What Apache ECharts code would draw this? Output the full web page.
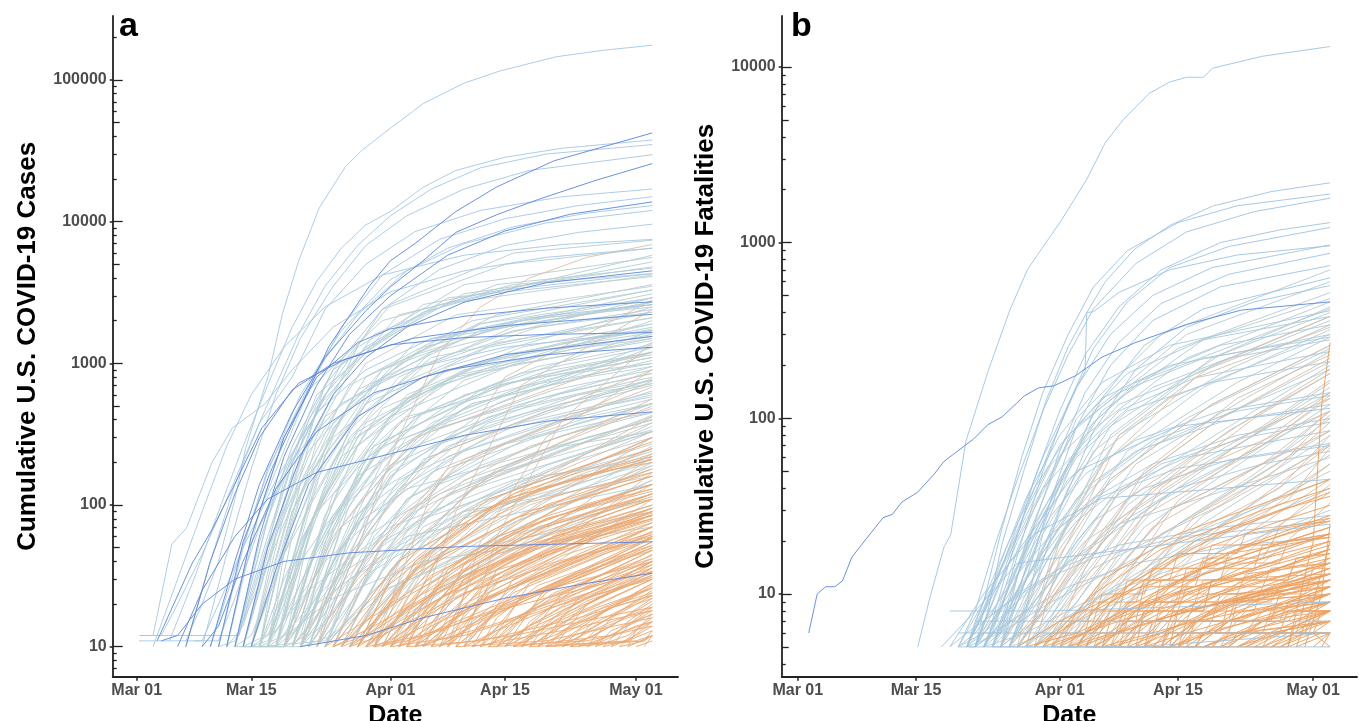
<!DOCTYPE html>
<html>
<head>
<meta charset="utf-8">
<script src="https://cdn.jsdelivr.net/npm/echarts@6/dist/echarts.min.js"></script>
<style>
  html, body { margin: 0; padding: 0; background: #fff; }
  #chart { width: 1359px; height: 721px; }
</style>
</head>
<body>
<div id="chart"></div>
<script>
// x is days since Mar 01 2020; each line is a flat list: day, value, day, value ...
const dateTicks = [0, 14, 31, 45, 61];
const dateLabels = ["Mar 01", "Mar 15", "Apr 01", "Apr 15", "May 01"];

const casesMajor = [10, 100, 1000, 10000, 100000];
const casesMinor = [7, 8, 9, 20, 30, 40, 60, 70, 80, 90, 200, 300, 400, 600, 700, 800, 900,
  2000, 3000, 4000, 6000, 7000, 8000, 9000, 20000, 30000, 40000, 60000, 70000, 80000, 90000, 200000];
const casesFive = [50, 500, 5000, 50000];

const deathsMajor = [10, 100, 1000, 10000];
const deathsMinor = [4, 6, 7, 8, 9, 20, 30, 40, 60, 70, 80, 90, 200, 300, 400, 600, 700, 800, 900,
  2000, 3000, 4000, 6000, 7000, 8000, 9000];
const deathsFive = [5, 50, 500, 5000];

// ---- panel a : cumulative cases ----
const casesDarkBlue = [
  [10,10, 13,55, 16.5,180, 20,490, 23.5,1320, 28.5,3550, 31,5300, 34,7000, 39,11800, 44,17600, 51,26900, 63,42300],
  [9,10, 12,40, 15,140, 19,450, 23,1100, 28,2350, 31,3460, 35,5300, 39,8400, 44,11200, 49,14300, 56,19500, 63,25700],
  [2.5,11, 6.8,39, 9.2,67, 11.7,130, 15.3,350, 19.8,725, 25.5,1070, 33.7,1500, 45,1850, 63,2220],
  [5,10, 8,25, 12,60, 16,110, 22,170, 31,230, 40,310, 50,390, 63,455],
  [3,11, 5,12, 8,20, 12,30, 18,40, 26,46, 40,51, 63,55],
  [6,10, 9,40, 12,120, 15,300, 19,650, 24,1000, 31,1350, 40,1520, 50,1600, 63,1650],
  [11,10, 14,60, 18,300, 22,800, 27,1400, 31,1750, 40,2150, 50,2450, 63,2720],
  [13,10, 16,50, 20,220, 24,600, 28,1100, 33,1800, 40,2700, 50,3700, 63,4500],
  [12,10, 15,60, 18,220, 22,700, 26,1600, 31,3000, 38,5800, 45,8600, 53,11300, 63,13800],
  [20,10, 28,12, 35,16, 45,22, 55,28, 63,33],
  [8,10, 10,14, 13,40, 17,130, 22,330, 29,620, 38,900, 50,1150, 63,1300],
  [14,10, 17,35, 21,140, 27,420, 35,800, 45,1150, 63,1550]
];
const casesLightBlue = [
  [6,11, 8,20, 10,40, 12,110, 13.3,250, 16.1,826, 17.8,2230, 19.8,5300, 22.3,12500, 25.5,24400, 27.5,31800, 31,45700, 33.7,59700, 35,68100, 40,95000, 44.4,115900, 51.3,146000, 57,162000, 63,176000],
  [4,11, 7,30, 10,90, 13,260, 16,700, 19,1800, 22,3800, 25,6500, 28,9500, 31,11800, 35,17500, 39,23000, 45,28500, 52,33000, 63,37700],
  [3,12, 5,20, 8,45, 11,110, 14,280, 17,700, 20,1700, 23,3500, 27,6800, 31,11000, 36,17000, 42,24000, 50,30000, 63,35000],
  [8,10, 11,45, 14,180, 17,600, 20,1500, 24,3500, 28,6800, 33,11000, 40,17000, 48,23000, 63,29700],
  [6,10, 9,40, 12,140, 15,380, 19,800, 23,2400, 28,5000, 34,8500, 42,12000, 52,15000, 63,17000],
  [10,10, 13,50, 16,180, 20,500, 25,1800, 30,4200, 37,7500, 45,10500, 54,13000, 63,15000],
  [9,10, 12,35, 16,170, 20,600, 25,1700, 31,3900, 38,6500, 46,9200, 55,11500, 63,13000],
  [11,10, 14,60, 18,300, 22,900, 27,2200, 33,4500, 40,7000, 50,9800, 63,12000],
  [12,10, 15,55, 19,260, 24,900, 30,2400, 37,4600, 45,6800, 54,8400, 63,9600],
  [0.5,12, 2,12, 4.3,53, 6.1,69, 9.2,200, 11.7,350, 13.7,426, 15.7,520, 19,900, 24,1800, 31,3200, 40,4500, 50,5600, 63,6500],
  [0.3,12, 12.5,12, 14,25, 16,60, 19,200, 23,600, 28,1300, 35,2300, 45,3300, 63,4300],
  [0.3,11, 8,11, 10,20, 13,50, 17,150, 22,450, 28,900, 36,1500, 48,2100, 63,2600],
  [2,10, 5,30, 8,90, 11,260, 14,600, 18,1300, 23,2500, 30,4200, 40,5800, 52,6900, 63,7500],
  [7,11, 10,11, 12,22, 15,70, 19,210, 25,520, 33,900, 45,1300, 63,1700]
];
const casesTeal = [
  [12,10, 16,80, 22,600, 35,2600, 63,5200], [12,10, 17,130, 24,900, 38,2900, 63,4100],
  [13,10, 18,150, 25,1000, 40,3100, 63,4800], [13,10, 17,60, 23,420, 37,1500, 63,2700],
  [14,10, 19,110, 26,700, 41,2000, 63,3300], [14,10, 18,45, 24,300, 36,1100, 63,2300],
  [15,10, 19,90, 27,650, 42,1700, 63,2600], [15,10, 20,140, 28,800, 44,2200, 63,3600],
  [15,10, 18,30, 25,220, 39,800, 63,1500], [16,10, 21,100, 28,520, 43,1300, 63,2100],
  [16,10, 20,55, 27,330, 40,900, 63,1600], [16,10, 22,170, 30,760, 46,1700, 63,2400],
  [17,10, 21,70, 28,380, 42,1000, 63,1750], [17,10, 22,95, 30,480, 45,1150, 63,1800],
  [17,10, 20,28, 27,160, 41,520, 63,1050], [18,10, 23,85, 31,420, 46,980, 63,1450],
  [18,10, 22,50, 29,260, 44,700, 63,1200], [18,10, 24,120, 33,560, 48,1200, 63,1650],
  [19,10, 23,55, 30,280, 45,720, 63,1100], [19,10, 24,80, 32,380, 47,850, 63,1300],
  [19,10, 22,25, 29,120, 43,380, 63,760], [20,10, 25,70, 33,300, 48,700, 63,1000],
  [20,10, 24,40, 31,190, 46,480, 63,800], [20,10, 26,100, 34,420, 50,880, 63,1200],
  [21,10, 26,60, 34,260, 49,560, 63,850], [21,10, 25,35, 32,150, 47,380, 63,620],
  [21,10, 27,85, 36,330, 51,650, 63,900], [22,10, 27,50, 35,210, 50,460, 63,700],
  [22,10, 26,28, 33,110, 48,300, 63,520], [22,10, 28,70, 37,270, 52,520, 63,720],
  [23,10, 28,45, 36,170, 51,380, 63,560], [23,10, 27,24, 34,90, 49,240, 63,400],
  [23,10, 29,60, 38,220, 53,440, 63,600], [24,10, 29,38, 37,140, 52,310, 63,450],
  [24,10, 28,20, 35,70, 50,190, 63,330], [24,10, 30,52, 39,190, 54,380, 63,520],
  [25,10, 30,34, 38,120, 53,260, 63,380], [25,10, 31,45, 40,150, 55,300, 63,400],
  [26,10, 31,30, 39,95, 54,210, 63,300], [26,10, 32,40, 41,130, 56,250, 63,330],
  [27,10, 32,26, 40,80, 55,170, 63,240], [27,10, 33,35, 42,105, 57,210, 63,270],
  [28,10, 34,30, 44,90, 63,210], [29,10, 35,26, 46,75, 63,180], [30,10, 36,24, 48,65, 63,150],
  [13,10, 16,45, 21,400, 30,2400, 45,5000, 63,6500], [14,10, 17,60, 22,480, 32,2200, 63,5800],
  [12,10, 15,35, 20,300, 29,1600, 44,3600, 63,4700], [16,10, 19,60, 24,350, 34,1400, 63,3100],
  [17,10, 20,50, 26,340, 36,1200, 63,2900], [18,10, 21,40, 27,260, 38,950, 63,2500],
  [19,10, 22,35, 28,210, 40,760, 63,2000], [20,10, 23,30, 30,200, 42,650, 63,1700],
  [21,10, 24,28, 31,160, 44,520, 63,1400], [15,10, 17,18, 22,90, 33,420, 63,1200],
  [16,10, 18,16, 24,85, 36,340, 63,950], [17,10, 19,15, 25,70, 38,260, 63,780],
  [18,10, 21,18, 27,75, 40,240, 63,640], [19,10, 22,16, 28,60, 42,190, 63,520],
  [20,10, 23,15, 30,55, 44,160, 63,430], [14,10, 16,12, 20,40, 30,260, 63,1300],
  [22,10, 24,14, 31,48, 46,140, 63,360], [23,10, 26,16, 33,45, 48,120, 63,300],
  [25,10, 27,13, 34,36, 50,95, 63,230], [26,10, 29,15, 37,38, 63,190],
  [28,10, 31,14, 40,32, 63,150], [31,10, 34,18, 44,45, 63,120],
  [14,10, 18,85, 23,700, 31,2600, 46,6000, 63,7400], [13,10, 19,160, 27,1300, 40,3600, 63,5600],
  [11,10, 15,90, 21,650, 30,2000, 46,3600, 63,4300], [12,10, 20,10, 26,30, 40,90, 63,160],
  [13,10, 18,10, 22,20, 33,60, 63,140], [15,10, 23,11, 30,25, 45,55, 63,90],
  [16,10, 19,13, 24,22, 35,40, 63,70]
];
const casesTeal2 = [
  [14,10, 16,22, 19,90, 24,380, 33,1100, 47,2000, 63,2600], [15,10, 17,30, 20,120, 26,520, 35,1300, 50,2100, 63,2500],
  [16,10, 18,20, 21,70, 27,300, 37,850, 52,1400, 63,1700], [17,10, 19,25, 22,85, 28,330, 39,820, 53,1250, 63,1500],
  [18,10, 20,18, 23,60, 29,230, 40,600, 54,950, 63,1150], [19,10, 21,20, 24,65, 30,220, 41,520, 55,800, 63,950],
  [20,10, 22,16, 25,48, 31,170, 43,420, 56,640, 63,760], [21,10, 23,15, 26,40, 32,130, 44,330, 57,500, 63,580],
  [22,10, 24,14, 27,35, 33,110, 45,270, 58,400, 63,450], [16,10, 17,14, 19,40, 22,150, 29,700, 42,1900, 63,3300],
  [17,10, 18,16, 20,45, 24,200, 32,800, 46,1800, 63,2700], [18,10, 19,13, 21,35, 25,150, 33,600, 47,1300, 63,1900],
  [19,10, 20,12, 22,28, 26,110, 35,450, 49,950, 63,1350], [20,10, 21,13, 23,30, 27,100, 36,380, 50,800, 63,1100],
  [21,10, 22,12, 24,24, 28,80, 38,300, 52,620, 63,850], [15,10, 17,40, 21,260, 27,1100, 37,2600, 63,4200],
  [16,10, 18,45, 22,280, 28,1000, 39,2200, 63,3500], [17,10, 19,35, 23,220, 30,900, 42,1900, 63,2900],
  [18,10, 21,60, 26,300, 35,950, 49,1800, 63,2300], [20,10, 23,50, 28,230, 37,700, 51,1250, 63,1550],
  [22,10, 25,40, 30,160, 40,480, 53,850, 63,1000], [23,10, 26,30, 31,110, 41,330, 54,600, 63,720],
  [24,10, 27,26, 32,85, 42,240, 56,430, 63,520], [25,10, 28,22, 33,65, 44,170, 63,340],
  [26,10, 29,20, 35,55, 46,130, 63,250], [27,10, 30,17, 36,42, 48,100, 63,190],
  [17,10, 20,14, 26,40, 37,120, 52,260, 63,330], [18,10, 22,13, 28,32, 40,85, 63,200],
  [20,10, 24,12, 31,26, 45,60, 63,110], [15,10, 18,12, 24,30, 35,80, 50,160, 63,220],
  [14,10, 16,11, 21,25, 31,70, 46,150, 63,210], [13,10, 17,13, 23,40, 33,130, 63,400],
  [12,10, 14,12, 18,45, 25,250, 38,900, 63,1900], [11,10, 13,14, 16,50, 21,240, 30,900, 45,1900, 63,2900],
  [10,10, 12,11, 15,28, 20,140, 29,600, 44,1400, 63,2100]
];
const casesTan = [
  [22,10, 27,50, 32,300, 37,1200, 42,2500, 48,4000, 55,5600, 63,6900],
  [18,10, 24,60, 34,300, 63,1200], [20,10, 26,45, 36,220, 63,900], [22,10, 28,40, 38,180, 63,750],
  [24,10, 30,55, 40,210, 63,680], [26,10, 31,35, 42,150, 63,560], [27,10, 33,50, 44,180, 63,500],
  [29,10, 34,30, 45,110, 63,420], [30,10, 36,45, 47,140, 63,380], [32,10, 37,28, 48,90, 63,300],
  [33,10, 38,40, 50,110, 63,260], [35,10, 40,30, 52,80, 63,220], [36,10, 41,22, 53,60, 63,170],
  [21,10, 27,30, 37,110, 63,420], [23,10, 29,25, 40,90, 63,330], [25,10, 32,28, 44,85, 63,250],
  [28,10, 35,24, 47,70, 63,200], [31,10, 38,22, 50,55, 63,140], [34,10, 40,18, 52,42, 63,110],
  [19,10, 25,28, 33,90, 48,260, 63,480], [37,10, 43,26, 55,60, 63,95],
  [38,10, 42,55, 50,300, 63,900], [40,10, 44,60, 52,400, 63,1400],
  [33,10, 39,90, 47,700, 63,2400], [29,10, 36,120, 45,800, 63,2800]
];
const casesOrange = [
  [24,10, 32,40, 45,110, 63,220], [25,10, 33,30, 46,80, 63,160], [26,10, 31,20, 44,60, 63,140],
  [27,10, 34,35, 48,90, 63,170], [28,10, 33,18, 46,50, 63,110], [29,10, 36,32, 50,80, 63,130],
  [30,10, 35,16, 47,40, 63,85], [30,10, 37,28, 50,70, 63,120], [31,10, 36,20, 49,55, 63,95],
  [32,10, 38,25, 51,60, 63,100], [32,10, 36,14, 48,30, 63,65], [33,10, 39,22, 52,50, 63,80],
  [34,10, 38,15, 50,35, 63,70], [34,10, 40,30, 53,75, 63,115], [35,10, 41,20, 54,45, 63,75],
  [35,10, 39,13, 51,26, 63,50], [36,10, 42,26, 55,60, 63,90], [37,10, 41,14, 53,30, 63,55],
  [37,10, 43,22, 56,48, 63,70], [38,10, 42,16, 54,32, 63,52], [38,10, 44,28, 57,62, 63,85],
  [39,10, 45,20, 58,42, 63,60], [40,10, 44,13, 56,25, 63,40], [40,10, 46,24, 59,50, 63,65],
  [41,10, 45,15, 57,30, 63,45], [42,10, 47,22, 63,60], [42,10, 46,12, 63,32], [43,10, 48,18, 63,48],
  [44,10, 48,14, 63,36], [44,10, 50,24, 63,55], [45,10, 49,13, 63,30], [45,10, 51,20, 63,42],
  [46,10, 51,15, 63,34], [47,10, 52,18, 63,38], [47,10, 51,12, 63,26], [48,10, 53,16, 63,30],
  [49,10, 54,14, 63,27], [49,10, 55,20, 63,36], [50,10, 55,13, 63,24], [51,10, 56,16, 63,28],
  [52,10, 56,12, 63,21], [52,10, 57,15, 63,25], [53,10, 58,14, 63,22], [54,10, 58,12, 63,18],
  [55,10, 59,13, 63,19], [56,10, 60,12, 63,16], [57,10, 60,11, 63,15], [58,10, 61,12, 63,14],
  [59,10, 62,11, 63,13], [60,10, 63,12], [61,10, 63,11],
  [26,10, 30,12, 40,24, 55,45, 63,58], [27,10, 32,15, 42,32, 63,75], [28,10, 35,12, 46,22, 63,40],
  [29,10, 33,11, 44,18, 63,34], [31,10, 40,12, 52,20, 63,30], [33,10, 42,11, 54,16, 63,23],
  [36,10, 46,12, 63,19], [39,10, 50,11, 63,16], [41,10, 52,13, 63,18], [43,10, 55,11, 63,14],
  [46,10, 58,12, 63,15], [48,10, 60,11, 63,13], [50,10, 61,11, 63,12], [53,10, 62,11, 63,12],
  [25,10, 30,25, 42,90, 63,300], [27,10, 31,30, 43,110, 63,280], [29,10, 34,40, 46,120, 63,250],
  [31,10, 37,45, 49,130, 63,210], [33,10, 38,35, 50,100, 63,180], [35,10, 40,38, 52,100, 63,160],
  [37,10, 42,40, 54,95, 63,140], [39,10, 44,35, 56,80, 63,110], [41,10, 46,30, 58,70, 63,90],
  [43,10, 48,28, 63,70], [45,10, 50,26, 63,58], [47,10, 52,24, 63,48], [49,10, 54,22, 63,40],
  [51,10, 55,20, 63,34], [53,10, 57,18, 63,28], [55,10, 58,16, 63,23], [57,10, 60,15, 63,20],
  [59,10, 61,13, 63,17], [23,10, 30,18, 42,45, 63,120], [24,10, 29,14, 40,32, 63,95],
  [26,10, 34,20, 48,50, 63,85], [28,10, 37,22, 51,48, 63,78], [30,10, 39,18, 53,38, 63,62],
  [32,10, 41,16, 55,32, 63,50], [34,10, 43,14, 57,26, 63,40]
];
const casesOrange2 = [
  [28,10, 31,14, 36,28, 45,60, 55,100, 63,130], [29,10, 32,12, 37,22, 46,45, 63,95],
  [30,10, 33,15, 38,30, 47,62, 57,95, 63,110], [31,10, 34,13, 39,24, 48,48, 63,80],
  [32,10, 35,16, 40,34, 49,70, 63,120], [33,10, 35,12, 40,20, 50,38, 63,60],
  [34,10, 37,15, 42,28, 51,52, 63,85], [35,10, 38,14, 43,24, 52,44, 63,70],
  [36,10, 39,17, 44,32, 53,58, 63,88], [37,10, 39,12, 44,19, 54,33, 63,48],
  [38,10, 41,15, 46,26, 55,44, 63,62], [39,10, 42,14, 47,22, 56,36, 63,50],
  [40,10, 43,16, 48,28, 57,45, 63,58], [41,10, 43,12, 48,18, 57,28, 63,36],
  [42,10, 45,14, 50,22, 58,34, 63,42], [43,10, 46,15, 51,24, 59,36, 63,44],
  [44,10, 47,13, 52,19, 63,32], [45,10, 48,14, 53,21, 63,33], [46,10, 49,12, 54,17, 63,26],
  [47,10, 50,15, 55,22, 63,31], [48,10, 51,13, 56,18, 63,24], [50,10, 53,14, 58,19, 63,23],
  [51,10, 53,11, 58,15, 63,19], [54,10, 56,13, 60,16, 63,18], [55,10, 57,11, 61,14, 63,15],
  [26,10, 29,15, 34,35, 43,90, 54,160, 63,200], [27,10, 30,18, 35,42, 44,100, 63,230],
  [28,10, 31,20, 36,48, 45,110, 63,210], [30,10, 33,22, 38,50, 48,105, 63,170],
  [32,10, 34,17, 39,38, 49,80, 63,140], [34,10, 36,18, 41,40, 50,80, 63,125],
  [36,10, 38,16, 43,34, 52,65, 63,100], [38,10, 40,17, 45,33, 54,60, 63,84],
  [40,10, 42,15, 47,28, 56,48, 63,64], [42,10, 44,16, 49,27, 58,42, 63,52],
  [44,10, 46,14, 51,23, 63,40], [46,10, 48,15, 53,24, 63,38], [48,10, 50,14, 55,21, 63,31],
  [50,10, 52,13, 57,19, 63,26], [52,10, 54,13, 59,18, 63,22], [56,10, 58,13, 63,17],
  [58,10, 60,14, 63,17], [60,10, 61,13, 63,15], [62,10, 63,12],
  [24,10, 28,12, 34,22, 44,45, 63,90], [25,10, 30,13, 37,26, 48,50, 63,80]
];

// ---- panel b : cumulative fatalities ----
const deathsDarkBlue = [
  [1.3,6, 2.3,10, 3.3,11, 4.4,11, 5.3,11.9, 6.4,16.2, 8.1,20.6, 10.1,27.2, 11.2,28.4, 12.3,33.3, 14.2,38, 16.2,48.5, 17.3,56.8, 20.8,76.2, 22.5,92, 24.2,102, 26.8,134, 28.5,149, 30.3,153, 32.9,175, 36,223, 39.9,269, 46,342, 52.5,413, 63,460]
];
const deathsLightBlue = [
  [14.2,5, 15.5,9, 17.3,18.5, 18.1,21.7, 19.9,74, 22.5,184, 25.1,413, 27.2,705, 31.2,1340, 34.2,2290, 36.4,3710, 38.5,5000, 41.6,7070, 44,8200, 46,8730, 48,8730, 49.1,9840, 55,11500, 63,13060],
  [21,5, 22.5,8, 24.2,19.5, 26.8,51, 29.4,127, 32,255, 34.2,400, 36.4,600, 39.9,920, 44,1250, 49.1,1614, 56,1950, 63,2190],
  [20,5, 22,9, 24,22, 26.5,60, 29,140, 32,300, 35,560, 39,900, 45,1300, 52,1620, 63,1890],
  [19,5, 21,8, 23.5,20, 26,45, 29,110, 32,230, 35,420, 40,760, 46,1150, 54,1500, 63,1790],
  [21,5, 23,7, 25,15, 28,45, 31,110, 34,230, 38,430, 43,700, 50,1000, 57,1180, 63,1300],
  [22,5, 24,8, 26.5,20, 29,50, 32,120, 35,250, 39,460, 44,720, 51,950, 63,1220],
  [20,5, 23,10, 26,25, 29,60, 33,150, 37,300, 42,500, 49,720, 63,970],
  [23,5, 25,9, 28,25, 31,65, 34,140, 38,270, 43,450, 51,660, 63,870],
  [24,5, 27,12, 30,35, 33,90, 37,200, 42,360, 50,560, 63,740],
  [22,5, 25,8, 28,18, 32,55, 36,130, 41,260, 48,420, 63,630],
  [25,5, 28,11, 31,30, 35,85, 40,190, 46,330, 54,460, 63,570],
  [21,5, 24,12, 27,30, 30,70, 33,150, 34,184, 34.2,400, 35,404, 38,520, 44,700, 52,850, 63,960],
  [18,5, 22,10, 28,22, 36,35, 63,45], [20,5, 25,15, 33,50, 45,90, 63,114], [17,5, 21,8, 26,15, 63,25],
  [19,6, 63,6], [20.3,5, 63,5], [18,8, 30,8, 63,9], [21,7, 63,7], [23,5, 40,5, 63,6]
];
const deathsTeal = [
  [21,5, 26,20, 33,90, 45,250, 63,520], [22,5, 27,18, 34,80, 46,220, 63,460],
  [22,5, 28,25, 36,110, 48,280, 63,480], [23,5, 28,15, 35,65, 47,180, 63,380],
  [23,5, 29,22, 37,90, 50,230, 63,400], [24,5, 29,14, 36,55, 48,150, 63,320],
  [24,5, 30,20, 38,80, 51,190, 63,340], [25,5, 30,12, 37,45, 49,120, 63,260],
  [25,5, 31,18, 39,65, 52,160, 63,290], [26,5, 31,11, 38,38, 50,100, 63,210],
  [26,5, 32,16, 40,55, 53,130, 63,240], [27,5, 32,10, 39,32, 51,85, 63,180],
  [27,5, 33,14, 41,45, 54,110, 63,200], [28,5, 33,9, 40,27, 52,70, 63,150],
  [28,5, 34,13, 42,40, 55,90, 63,165], [29,5, 34,9, 41,24, 53,58, 63,120],
  [29,5, 35,12, 43,34, 56,75, 63,135], [30,5, 35,8, 42,20, 54,48, 63,100],
  [30,5, 36,11, 44,30, 57,62, 63,110], [31,5, 37,10, 45,25, 63,85],
  [32,5, 38,9, 46,22, 63,72], [33,5, 39,9, 47,20, 63,62],
  [20,5, 24,14, 30,55, 40,160, 63,420], [19,5, 23,11, 29,40, 38,120, 63,360],
  [21,5, 25,12, 32,45, 44,130, 63,300], [22,5, 26,10, 33,35, 46,100, 63,250],
  [20,5, 25,9, 31,24, 42,70, 63,190], [21,5, 27,8, 34,20, 48,55, 63,140],
  [23,5, 26,7, 32,15, 45,40, 63,110], [24,5, 28,7, 35,14, 50,32, 63,80],
  [19,5, 22,6, 27,10, 38,25, 63,60], [20,5, 24,6, 30,9, 42,18, 63,45],
  [22,5, 27,6, 34,9, 63,30], [25,5, 30,6, 40,10, 63,22], [26,5, 33,8, 44,16, 63,40],
  [28,5, 36,10, 48,22, 63,50], [24,5, 27,20, 33,100, 43,300, 63,700],
  [26,5, 29,22, 35,110, 46,300, 63,600], [27,5, 30,16, 37,80, 49,220, 63,430]
];
const deathsTeal2 = [
  [20,5, 22,6, 24,6, 25,9, 28,14, 31,22, 35,35, 42,55, 52,80, 63,100],
  [21,5, 23,7, 25,10, 27,16, 30,28, 34,48, 40,75, 50,110, 63,140],
  [22,5, 24,6, 26,9, 29,15, 33,26, 38,40, 46,60, 63,85],
  [19,5, 21,6, 23,8, 26,13, 30,22, 36,36, 45,52, 63,70],
  [23,5, 25,7, 27,12, 30,22, 34,40, 40,65, 50,95, 63,120],
  [24,5, 26,6, 28,9, 31,15, 35,26, 41,40, 51,58, 63,72],
  [25,5, 27,8, 29,14, 32,26, 36,46, 42,75, 52,110, 63,135],
  [20,5, 21,7, 23,12, 25,20, 28,40, 32,80, 38,140, 48,220, 63,290],
  [21,5, 22,8, 24,14, 27,30, 31,70, 36,130, 44,200, 63,300],
  [22,5, 23,6, 25,11, 28,24, 32,55, 38,110, 47,170, 63,240],
  [23,5, 24,7, 26,13, 29,28, 33,60, 39,110, 49,160, 63,210],
  [26,5, 28,7, 30,11, 33,20, 37,34, 43,55, 53,78, 63,95],
  [27,5, 29,6, 31,9, 34,15, 38,25, 45,40, 55,55, 63,65],
  [18,5, 20,6, 22,7, 25,9, 29,12, 35,16, 45,21, 63,26],
  [19,5, 21,5, 22,7, 26,10, 31,14, 38,19, 50,24, 63,28],
  [21,5, 23,6, 27,8, 32,11, 40,15, 52,19, 63,21],
  [24,5, 26,10, 28,20, 31,45, 35,95, 41,170, 50,260, 63,340],
  [25,5, 27,9, 29,18, 32,40, 36,85, 42,150, 51,220, 63,280],
  [22,5, 24,9, 26,18, 29,40, 33,90, 39,180, 48,280, 63,380],
  [20,5, 22,8, 24,15, 27,35, 31,80, 36,160, 44,260, 63,410]
];
const deathsTan = [
  [24,5, 29,12, 37,45, 49,120, 63,260], [25,5, 30,10, 38,38, 50,100, 63,220],
  [26,5, 31,11, 39,35, 52,90, 63,190], [27,5, 32,9, 40,30, 53,75, 63,160],
  [28,5, 33,10, 41,28, 54,65, 63,130], [29,5, 34,8, 42,24, 55,55, 63,110],
  [30,5, 35,9, 43,22, 56,48, 63,95], [31,5, 36,8, 44,19, 57,40, 63,80],
  [32,5, 37,7, 45,17, 58,34, 63,68], [33,5, 38,8, 46,16, 63,55], [34,5, 39,7, 47,14, 63,45],
  [35,5, 40,7, 48,13, 63,38], [30,5, 34,14, 41,50, 52,130, 63,230], [32,5, 36,12, 43,40, 54,100, 63,180],
  [34,5, 38,11, 45,34, 56,80, 63,140], [36,5, 40,10, 47,28, 58,60, 63,105], [38,5, 42,9, 49,22, 63,70],
  [40,5, 44,9, 51,20, 63,55], [42,5, 46,8, 53,17, 63,42], [44,5, 48,8, 55,15, 63,33],
  [28,5, 31,16, 37,60, 47,170, 63,330], [27,5, 31,20, 38,80, 49,200, 63,380],
  [25,5, 29,8, 36,22, 47,60, 63,130], [26,5, 32,12, 42,40, 63,110], [31,5, 35,10, 44,30, 63,85],
  [33,5, 37,9, 48,28, 63,70]
];
const deathsOrange = [
  [30,5, 34,6, 40,9, 48,14, 63,24], [31,5, 36,5, 37,7, 45,10, 63,16], [32,5, 35,8, 42,12, 52,18, 63,26],
  [33,5, 38,6, 46,8, 63,12], [34,5, 37,7, 44,11, 55,17, 63,22], [35,5, 41,5, 42,7, 50,9, 63,13],
  [36,5, 40,8, 48,13, 63,20], [37,5, 43,6, 52,9, 63,11], [38,5, 42,7, 50,10, 63,15],
  [39,5, 44,5, 45,8, 56,10, 63,12], [40,5, 44,6, 52,9, 63,14], [41,5, 45,8, 53,12, 63,18],
  [42,5, 47,5, 48,6, 63,9], [43,5, 47,7, 55,10, 63,13], [44,5, 49,6, 57,8, 63,10],
  [45,5, 48,7, 56,10, 63,12], [46,5, 51,5, 52,6, 63,8], [47,5, 51,7, 63,10], [48,5, 53,6, 63,9],
  [49,5, 52,7, 63,11], [50,5, 55,5, 56,6, 63,7], [51,5, 55,7, 63,9], [52,5, 57,6, 63,8],
  [53,5, 56,6, 63,7], [54,5, 58,5, 59,7, 63,8], [55,5, 59,6, 63,7], [56,5, 60,6, 63,6],
  [57,5, 61,6, 63,7], [58,5, 62,6, 63,6], [59,5, 63,6], [61,6, 63,5], [61,5, 63,6], [62,5, 63,6],
  [28,5, 33,7, 40,12, 50,22, 63,38], [29,5, 35,10, 43,18, 55,30, 63,40], [30,5, 36,12, 45,22, 56,34, 63,45],
  [31,5, 34,6, 39,8, 47,11, 63,18], [33,5, 37,9, 45,16, 56,25, 63,32], [34,5, 39,11, 47,20, 57,30, 63,36],
  [35,5, 38,6, 44,9, 54,14, 63,19], [36,5, 42,10, 51,17, 63,27], [37,5, 41,7, 49,11, 63,17],
  [38,5, 44,11, 53,19, 63,28], [39,5, 43,6, 51,9, 63,14], [40,5, 46,10, 55,16, 63,22],
  [41,5, 46,6, 55,8, 63,11], [42,5, 48,9, 57,14, 63,18], [43,5, 49,8, 58,12, 63,15],
  [44,5, 50,9, 59,13, 63,16], [45,5, 51,7, 60,10, 63,12], [46,5, 52,8, 63,12], [47,5, 54,9, 63,13],
  [48,5, 55,7, 63,10], [50,5, 57,8, 63,11], [52,5, 59,7, 63,9], [54,5, 60,7, 63,8], [56,5, 61,7, 63,8],
  [26,5, 31,7, 38,10, 50,15, 63,24], [27,5, 33,6, 41,9, 54,14, 63,20], [29,5, 38,7, 49,10, 63,15],
  [32,5, 42,7, 54,10, 63,13], [36,5, 47,7, 63,10], [58,5, 61,20, 62,120, 63,270],
  [60,5, 62,10, 63,25], [59,5, 61,9, 63,20]
];
const deathsOrange2 = [
  [30,5, 33,5, 34,6, 38,6, 39,8, 45,8, 46,11, 55,11, 56,14, 63,15],
  [32,5, 36,6, 37,6, 41,9, 47,9, 48,12, 63,13],
  [34,5, 38,5, 39,7, 44,7, 45,10, 52,10, 53,13, 63,15],
  [35,5, 37,6, 42,6, 43,9, 50,9, 51,10, 63,11],
  [36,5, 40,5, 41,8, 48,8, 49,12, 58,12, 59,16, 63,17],
  [37,5, 39,7, 46,7, 47,9, 56,9, 57,11, 63,12],
  [38,5, 43,5, 44,6, 51,6, 52,9, 63,10],
  [39,5, 41,7, 49,7, 50,10, 60,10, 61,14, 63,14],
  [40,5, 45,5, 46,7, 54,7, 55,8, 63,9],
  [41,5, 43,6, 50,6, 51,9, 63,10],
  [42,5, 46,5, 47,7, 57,7, 58,9, 63,10],
  [43,5, 44,7, 52,7, 53,8, 63,9],
  [44,5, 48,6, 55,6, 56,8, 63,8],
  [45,5, 47,6, 53,6, 54,7, 63,8],
  [46,5, 50,5, 51,6, 59,6, 60,9, 63,9],
  [47,5, 49,7, 58,7, 59,8, 63,8],
  [48,5, 52,6, 63,7], [49,5, 51,6, 57,6, 58,8, 63,8], [50,5, 54,6, 60,6, 61,7, 63,7],
  [51,5, 53,6, 63,7], [52,5, 55,6, 60,6, 61,8, 63,8], [53,5, 57,6, 63,6],
  [55,5, 58,6, 61,6, 62,8, 63,8], [57,5, 60,6, 63,6],
  [31,5, 33,8, 38,8, 39,12, 44,12, 45,17, 52,17, 53,22, 63,26],
  [33,5, 35,7, 40,7, 41,11, 47,11, 48,15, 57,15, 58,20, 63,21],
  [35,5, 37,8, 42,8, 43,12, 50,12, 51,17, 63,21],
  [37,5, 39,9, 45,9, 46,14, 54,14, 55,19, 63,22],
  [39,5, 41,8, 48,8, 49,12, 58,12, 59,16, 63,17],
  [41,5, 43,7, 51,7, 52,10, 63,12], [43,5, 45,8, 54,8, 55,11, 63,13], [45,5, 47,7, 56,7, 57,10, 63,11],
  [29,5, 31,7, 35,7, 36,10, 41,10, 42,14, 48,14, 49,19, 56,19, 57,24, 63,27],
  [28,5, 30,6, 34,6, 35,9, 40,9, 41,12, 47,12, 48,16, 55,16, 56,19, 63,22]
];

function toPairs(flat) {
  const out = [];
  for (let i = 0; i < flat.length; i += 2) out.push([flat[i], flat[i + 1]]);
  return out;
}

const series = [];
function addGroup(lines, color, panel) {
  lines.forEach((line) => {
    series.push({
      type: "line",
      xAxisIndex: panel,
      yAxisIndex: panel,
      data: toPairs(line),
      symbol: "none",
      silent: true,
      lineStyle: { color: color, width: 1, opacity: 0.9 },
    });
  });
}
addGroup(casesTeal, "#b4cdd4", 0);
addGroup(casesTeal2, "#b9cfd3", 0);
addGroup(casesTan, "#d8c0ad", 0);
addGroup(casesOrange, "#eca66b", 0);
addGroup(casesOrange2, "#e9ad7c", 0);
addGroup(casesLightBlue, "#a3c8e6", 0);
addGroup(casesDarkBlue, "#5a85e0", 0);
addGroup(deathsTeal, "#b4cbd0", 1);
addGroup(deathsTeal2, "#a9c9dd", 1);
addGroup(deathsTan, "#d9bca5", 1);
addGroup(deathsOrange, "#ee9a52", 1);
addGroup(deathsOrange2, "#eba468", 1);
addGroup(deathsLightBlue, "#9cc3e4", 1);
addGroup(deathsDarkBlue, "#5a85e0", 1);

const AXIS = "#222";
const FONT = "Liberation Sans";
const TOP = 16, HEIGHT = 660.7;
const panels = [
  { left: 112.7, width: 565.3, xMin: -2.93, xMax: 66.14, yMin: 6.142, yMax: 282950,
    major: casesMajor, minor: casesMinor, five: casesFive, name: "Cumulative U.S. COVID-19 Cases", nameGap: 72 },
  { left: 781.7, width: 575.3, xMin: -1.9, xMax: 66.18, yMin: 3.383, yMax: 19486,
    major: deathsMajor, minor: deathsMinor, five: deathsFive, name: "Cumulative U.S. COVID-19 Fatalities", nameGap: 63 },
];

const grids = [], xAxes = [], yAxes = [];
panels.forEach((p, i) => {
  grids.push({ left: p.left, top: TOP, width: p.width, height: HEIGHT, outerBoundsMode: "none", containLabel: false });
  xAxes.push({
    type: "value", gridIndex: i, min: p.xMin, max: p.xMax,
    name: "Date", nameLocation: "middle", nameGap: 21,
    nameTextStyle: { fontFamily: FONT, fontWeight: "bold", fontSize: 25, color: "#000" },
    splitLine: { show: false },
    axisLine: { show: true, onZero: false, lineStyle: { color: AXIS, width: 1.8 } },
    axisTick: { show: true, length: 4, customValues: dateTicks, lineStyle: { color: AXIS, width: 1.5 } },
    axisLabel: {
      show: true, customValues: dateTicks, margin: 6,
      fontFamily: FONT, fontWeight: "bold", fontSize: 16, color: "#4d4d4d",
      formatter: (v) => dateLabels[dateTicks.indexOf(Math.round(v))] || "",
    },
  });
  yAxes.push({
    type: "log", gridIndex: i, min: p.yMin, max: p.yMax, position: "left",
    name: p.name, nameLocation: "middle", nameGap: p.nameGap,
    nameTextStyle: { fontFamily: FONT, fontWeight: "bold", fontSize: 26, color: "#000" },
    splitLine: { show: false },
    axisLine: { show: true, onZero: false, lineStyle: { color: AXIS, width: 1.8 } },
    axisTick: { show: true, length: 3, customValues: p.major, lineStyle: { color: AXIS, width: 1.5 } },
    axisLabel: {
      show: true, customValues: p.major, margin: 6,
      fontFamily: FONT, fontWeight: "bold", fontSize: 16, color: "#4d4d4d",
      formatter: (v) => String(Math.round(v)),
    },
  });
});

// inward log ticks: a thin helper grid shifted right by the tick length, with outward ticks
panels.forEach((p) => {
  [[p.major, 10], [p.minor, 4], [p.five, 7]].forEach(([values, len]) => {
    const g = grids.length;
    grids.push({ left: p.left + len, top: TOP, width: 4, height: HEIGHT, outerBoundsMode: "none", containLabel: false });
    xAxes.push({ type: "value", gridIndex: g, show: false });
    yAxes.push({
      type: "log", gridIndex: g, min: p.yMin, max: p.yMax, position: "left",
      splitLine: { show: false }, axisLine: { show: false, onZero: false }, axisLabel: { show: false },
      axisTick: { show: true, length: len, customValues: values, lineStyle: { color: AXIS, width: 1.3 } },
    });
  });
});

const chart = echarts.init(document.getElementById("chart"), null, { renderer: "canvas" });
chart.setOption({
  animation: false,
  backgroundColor: "#fff",
  grid: grids,
  xAxis: xAxes,
  yAxis: yAxes,
  graphic: [
    { type: "text", left: 119, top: 10, style: { text: "a", font: "bold 34px 'Liberation Sans'", fill: "#000" } },
    { type: "text", left: 791, top: 10, style: { text: "b", font: "bold 34px 'Liberation Sans'", fill: "#000" } },
  ],
  series: series,
});
</script>
</body>
</html>
